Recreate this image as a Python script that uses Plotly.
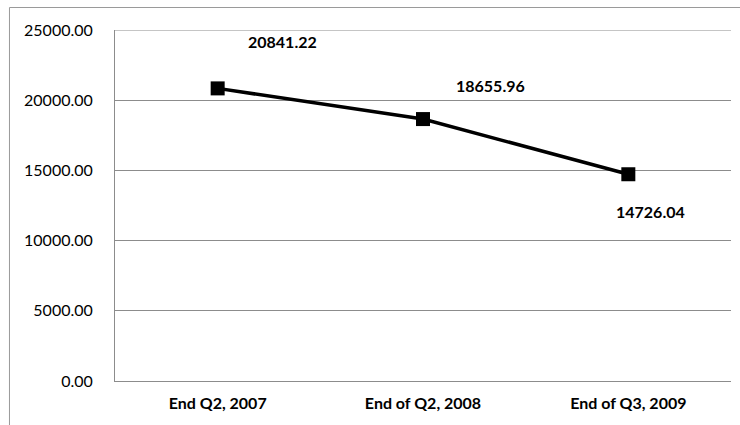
import plotly.graph_objects as go

# Quarter-end values
periods = ["End Q2, 2007", "End of Q2, 2008", "End of Q3, 2009"]
values = [20841.22, 18655.96, 14726.04]
y_ticks = [0, 5000, 10000, 15000, 20000, 25000]

# Label offsets (pixels) for each point's value label
label_dx = [65, 67, 22]
label_dy = [47, 34, -37]

FONT = "Lato, Open Sans, sans-serif"
GRID = "#8c8c8c"
FS = 16

fig = go.Figure()
fig.add_trace(go.Scatter(
    x=periods, y=values, mode="lines+markers",
    line=dict(color="black", width=3.5),
    marker=dict(symbol="square", size=14, color="black"),
    hoverinfo="skip", showlegend=False,
))

for p, v, dx, dy in zip(periods, values, label_dx, label_dy):
    fig.add_annotation(
        x=p, y=v, text=f"<b>{v:.2f}</b>", showarrow=False,
        xshift=dx, yshift=dy,
        font=dict(family=FONT, size=FS, color="black"),
    )

# Top gridline at the axis maximum
fig.add_shape(type="line", xref="paper", yref="y",
              x0=0, x1=1, y0=y_ticks[-1], y1=y_ticks[-1],
              line=dict(color=GRID, width=1), layer="below")

# Outer chart frame
fig.add_shape(type="rect", xref="paper", yref="paper",
              x0=-0.1713, y0=-0.3, x1=1.2, y1=1.0641,
              line=dict(color="#9a9a9a", width=1), layer="below")

fig.update_layout(
    width=740, height=425,
    margin=dict(l=115, r=9, t=30, b=44),
    paper_bgcolor="white", plot_bgcolor="white",
    font=dict(family=FONT, size=FS, color="black"),
    xaxis=dict(
        type="category", showgrid=False, zeroline=False,
        showline=True, linecolor=GRID, linewidth=1,
        ticks="", range=[-0.5, 2.5],
        tickfont=dict(family=FONT, size=FS, color="black"),
        ticklabelstandoff=8,
    ),
    yaxis=dict(
        range=[0, 25000], tickvals=y_ticks,
        ticktext=[f"{t:.2f}" for t in y_ticks],
        showgrid=True, gridcolor=GRID, gridwidth=1,
        zeroline=False, showline=True, linecolor=GRID, linewidth=1,
        ticks="", ticklabelstandoff=18,
        tickfont=dict(family=FONT, size=FS, color="black"),
    ),
)
fig.update_xaxes(tickprefix="<b>", ticksuffix="</b>")

fig.write_html("out.html")
